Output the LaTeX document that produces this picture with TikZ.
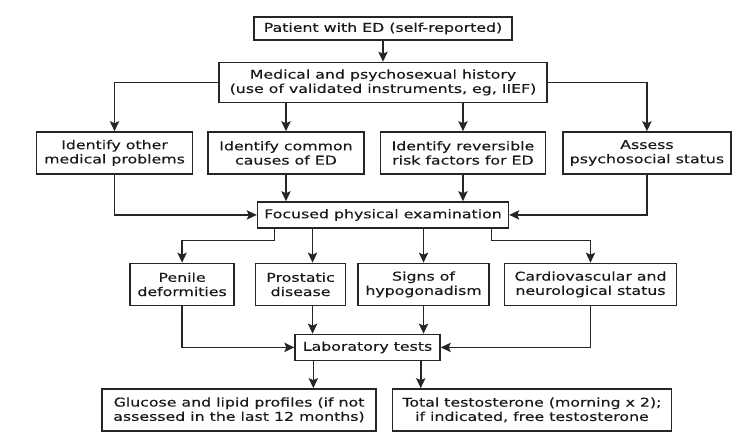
\documentclass[tikz,border=0pt]{standalone}
\usepackage{fontspec}
\setmainfont{DejaVu Sans}[FakeStretch=1.3, FakeBold=0.3]
\usepackage{tikz}
\usetikzlibrary{positioning, arrows.meta}

\begin{document}
\begin{tikzpicture}[
    node distance=21pt and 11.25pt,
    n/.style={rectangle, draw=black!85, line width=1.1pt, text=black!90, minimum height=31.5pt, inner sep=1pt, font=\fontsize{9.1}{10.7}\selectfont, align=center},
    arr/.style={-{Stealth[length=7.5pt, width=7pt, inset=1.5pt]}, line width=1.1pt, black!85},
]
    \useasboundingbox (-287.25pt,21.375pt) rectangle (269.25pt,-302.625pt);

    \node[n, minimum width=193.5pt, minimum height=17.25pt] (pat) {Patient with ED (self-reported)};
    \node[n, minimum width=246pt, minimum height=30pt, below=15.75pt of pat] (hist) {Medical and psychosexual history\\(use of validated instruments, eg, IIEF)};

    \node[n, minimum width=117pt, below=21pt of hist, xshift=-72.75pt] (cau) {Identify common\\causes of ED};
    \node[n, minimum width=117pt, left=10.5pt of cau] (oth) {Identify other\\medical problems};
    \node[n, minimum width=123.75pt, right=of cau] (risk) {Identify reversible\\risk factors for ED};
    \node[n, minimum width=126pt, right=12pt of risk] (psy) {Assess\\psychosocial status};

    \node[n, minimum width=188.25pt, minimum height=19.5pt, below=73.5pt of hist] (exam) {Focused physical examination};

    \node[n, minimum width=98.25pt, below=25.5pt of exam, xshift=30.4pt] (hyp) {Signs of\\hypogonadism};
    \node[n, minimum width=67.5pt, left=8.25pt of hyp] (pro) {Prostatic\\disease};
    \node[n, minimum width=78pt, left=15pt of pro] (pen) {Penile\\deformities};
    \node[n, minimum width=129pt, right=10.5pt of hyp] (cv) {Cardiovascular and\\neurological status};

    \node[n, minimum width=108.75pt, minimum height=19.5pt, below=78.75pt of exam, xshift=-11.6pt] (lab) {Laboratory tests};

    \node[n, minimum width=205.5pt, below=20.25pt of lab, xshift=-96.4pt] (glu) {Glucose and lipid profiles (if not\\assessed in the last 12 months)};
    \node[n, minimum width=209.25pt, right=of glu] (tes) {Total testosterone (morning x 2);\\if indicated, free testosterone};

    \draw[arr] (pat) -- (hist);
    \draw[arr] (hist) -| (oth);
    \draw[arr] (cau |- hist.south) -- (cau);
    \draw[arr] (risk |- hist.south) -- (risk);
    \draw[arr] (hist) -| (psy);

    \draw[arr] (oth) |- (exam);
    \draw[arr] (cau) -- (cau |- exam.north);
    \draw[arr] (risk) -- (risk |- exam.north);
    \draw[arr] (psy) |- (exam);

    \draw[arr] ([xshift=13.5pt]exam.south west) -- ++(0,-9pt) -| (pen);
    \draw[arr] ([xshift=9pt]pro.north |- exam.south) -- ([xshift=9pt]pro.north);
    \draw[arr] (hyp |- exam.south) -- (hyp);
    \draw[arr] ([xshift=-13.5pt]exam.south east) -- ++(0,-9pt) -| (cv);

    \draw[arr] (pen) |- (lab);
    \draw[arr] ([xshift=9pt]pro.south) -- ([xshift=9pt]pro.south |- lab.north);
    \draw[arr] (hyp) -- (hyp |- lab.north);
    \draw[arr] (cv) |- (lab);

    \draw[arr] ([xshift=14.25pt]lab.south west) -- ([xshift=14.25pt]lab.south west |- glu.north);
    \draw[arr] ([xshift=-15pt]lab.south east) -- ([xshift=-15pt]lab.south east |- tes.north);
\end{tikzpicture}
\end{document}
